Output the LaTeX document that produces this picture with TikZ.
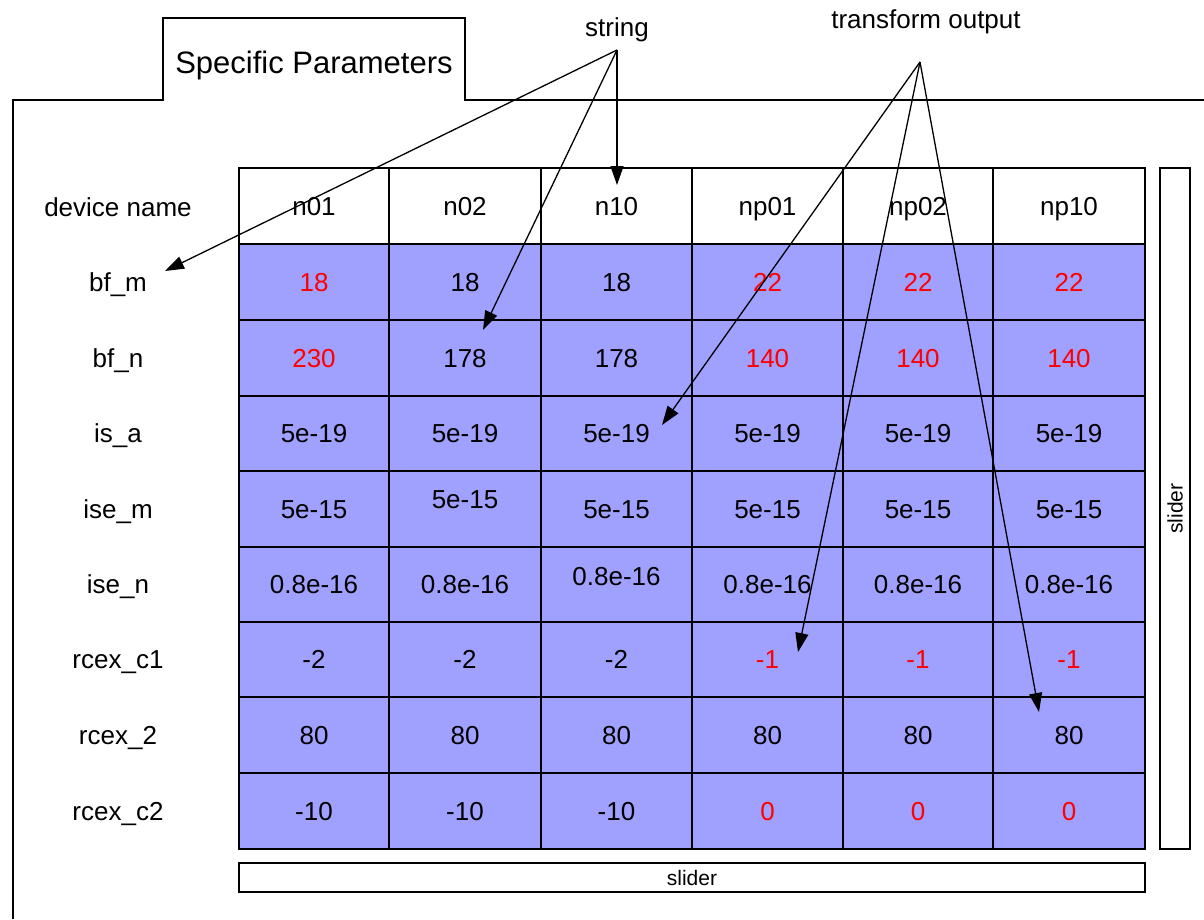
\documentclass[tikz,border=0pt]{standalone}
\usepackage{fontspec}
\setmainfont{Liberation Sans}
\usetikzlibrary{arrows.meta}
\definecolor{cellblue}{RGB}{160,160,255}
\definecolor{valred}{RGB}{255,0,0}

% column and row boundaries of the parameter grid
\def\colx{{239,389,541,692,843,993,1145}}
\def\rowy{{168,244,320,396,471,547,622,697,773,849}}

% one data row: #1 row index, #2 row label, #3 list of value/colour/raise
\newcommand\datarow[3]{%
  \pgfmathsetmacro\ya{\rowy[#1]}%
  \pgfmathsetmacro\yb{\rowy[#1+1]}%
  \node[rowlabel] (lab-#1) at (118,{(\ya+\yb)/2}) {#2};
  \foreach \v/\c/\dy [count=\j] in {#3} {
    \pgfmathsetmacro\xa{\colx[\j-1]}
    \pgfmathsetmacro\xb{\colx[\j]}
    \pgfmathsetmacro\w{\xb-\xa}
    \pgfmathsetmacro\h{\yb-\ya}
    \node[datacell, minimum width=\w pt, minimum height=\h pt]
      (cell-#1-\j) at ({(\xa+\xb)/2},{(\ya+\yb)/2}) {};
    \node[celltext, text=\c] (val-#1-\j) at ([yshift=\dy pt]cell-#1-\j.center) {\v};
  }
}

\begin{document}
\begin{tikzpicture}[x=1pt,y=-1pt,
  txt/.style={font=\fontsize{26}{31}\selectfont, inner sep=0pt,
    text height=18.7pt, text depth=0pt},
  rowlabel/.style={txt},
  celltext/.style={txt},
  headcell/.style={draw=black, line width=1.4pt, fill=white, inner sep=0pt,
    font=\fontsize{26}{31}\selectfont, text height=18.7pt, text depth=0pt},
  datacell/.style={draw=black, line width=1.4pt, fill=cellblue, inner sep=0pt},
  sliderbox/.style={draw=black, line width=1.4pt, fill=white, inner sep=0pt,
    font=\fontsize{21}{25}\selectfont, text height=15.1pt, text depth=0pt},
  pointer/.style={draw=black, line width=1.3pt,
    -{Triangle[length=19pt,width=13pt]}},
]
\useasboundingbox (0,0) rectangle (1204,919);

% tabbed frame
\draw[line width=1.4pt] (13,919) -- (13,100) -- (163,100) -- (163,18)
  -- (465,18) -- (465,100) -- (1204,100);
\node[font=\fontsize{31}{37}\selectfont, inner sep=0pt, text height=22.3pt, text depth=0pt]
  (tab) at (314,62) {Specific Parameters};

% header row
\node[rowlabel] (lab-0) at (118,207) {device name};
\foreach \hd [count=\j] in {n01,n02,n10,np01,np02,np10} {
  \pgfmathsetmacro\xa{\colx[\j-1]}
  \pgfmathsetmacro\xb{\colx[\j]}
  \pgfmathsetmacro\w{\xb-\xa}
  \node[headcell, minimum width=\w pt, minimum height=76pt]
    (head-\j) at ({(\xa+\xb)/2},206) {\hd};
}

% parameter rows
\datarow{1}{bf\_m}{18/valred/0,18/black/0,18/black/0,22/valred/0,22/valred/0,22/valred/0}
\datarow{2}{bf\_n}{230/valred/0,178/black/0,178/black/0,140/valred/0,140/valred/0,140/valred/0}
\datarow{3}{is\_a}{5e-19/black/0,5e-19/black/0,5e-19/black/0,5e-19/black/0,5e-19/black/0,5e-19/black/0}
\datarow{4}{ise\_m}{5e-15/black/0,5e-15/black/10,5e-15/black/0,5e-15/black/0,5e-15/black/0,5e-15/black/0}
\datarow{5}{ise\_n}{0.8e-16/black/0,0.8e-16/black/0,0.8e-16/black/8,0.8e-16/black/0,0.8e-16/black/0,0.8e-16/black/0}
\datarow{6}{rcex\_c1}{-2/black/0,-2/black/0,-2/black/0,-1/valred/0,-1/valred/0,-1/valred/0}
\datarow{7}{rcex\_2}{80/black/0,80/black/0,80/black/0,80/black/0,80/black/0,80/black/0}
\datarow{8}{rcex\_c2}{-10/black/0,-10/black/0,-10/black/0,0/valred/0,0/valred/0,0/valred/0}

% outer border of the grid
\draw[line width=2pt] (239,168) rectangle (1145,849);

% sliders
\node[sliderbox, minimum width=30pt, minimum height=681pt] (vslider) at (1175,508.5) {};
\node[font=\fontsize{21}{25}\selectfont, rotate=90, inner sep=0pt,
  text height=15.1pt, text depth=0pt] (vslidertext) at (vslider.center) {slider};
\node[sliderbox, minimum width=906pt, minimum height=29pt] (hslider) at (692,877.5) {slider};

% annotations
\node[txt] (strlabel) at (617,27) {string};
\node[txt] (tolabel) at (926,19) {transform output};
\coordinate (strHub) at (617,50);
\coordinate (toHub) at (920,62);

\coordinate (tipBfm) at (165,271);
\coordinate (tipBfn) at (483,330);
\coordinate (tipHead) at (617,185);
\coordinate (tipIsa) at (662,425);
\coordinate (tipRc1) at (798,652);
\coordinate (tipRc2) at (1039,712);

\draw[pointer] (strHub) -- (tipBfm);
\draw[pointer] (strHub) -- (tipBfn);
\draw[pointer] (strHub) -- (tipHead);
\draw[pointer] (toHub) -- (tipIsa);
\draw[pointer] (toHub) -- (tipRc1);
\draw[pointer] (toHub) -- (tipRc2);
\end{tikzpicture}
\end{document}
